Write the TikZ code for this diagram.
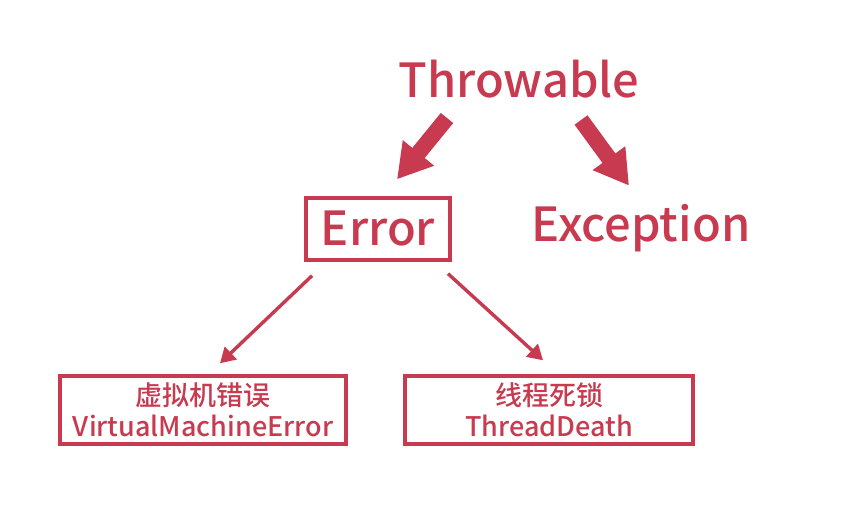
\documentclass[tikz,border=0pt]{standalone}
\usepackage{fontspec}
\setmainfont{Noto Sans CJK SC}[BoldFont=* Medium]
\usetikzlibrary{arrows.meta}
\definecolor{crimson}{HTML}{C73A50}

\begin{document}
\begin{tikzpicture}[x=1pt,y=1pt,>=Stealth,
  big/.style={font=\fontsize{47}{52}\selectfont\bfseries,text=crimson},
  box/.style={draw=crimson,line width=3.4pt,text=crimson,align=center,inner sep=0pt},
  fat/.style={crimson,line width=16pt,-{Triangle[width=38pt,length=34pt]}},
  thin/.style={crimson,line width=3.4pt,-{Triangle[width=17pt,length=15pt]}}]
\useasboundingbox (0,0) rectangle (849,530);
\node[big] (thr) at (519,451){Throwable};
\node[big,box,minimum width=144pt,minimum height=62pt] (err) at (378,301){Error};
\node[big] (exc) at (641,302){Exception};
\node[box,font=\fontsize{27}{31}\selectfont\bfseries,minimum width=286pt,minimum height=68pt] (vme) at (203,120){虚拟机错误\\VirtualMachineError};
\node[box,font=\fontsize{27}{31}\selectfont\bfseries,minimum width=288pt,minimum height=68pt] (td) at (549,120){线程死锁\\ThreadDeath};
\coordinate (thrl) at (447,412);\coordinate (thrr) at (581,410);
\draw[fat] (thrl)--([xshift=19pt,yshift=17pt]err.north);
\draw[fat] (thrr)--([xshift=-12pt,yshift=15pt]exc.north);
\draw[thin] ([xshift=-66pt,yshift=-14pt]err.south)--([xshift=17pt,yshift=11pt]vme.north);
\draw[thin] ([xshift=70pt,yshift=-12pt]err.south)--([xshift=-6pt,yshift=14pt]td.north);
\end{tikzpicture}
\end{document}
